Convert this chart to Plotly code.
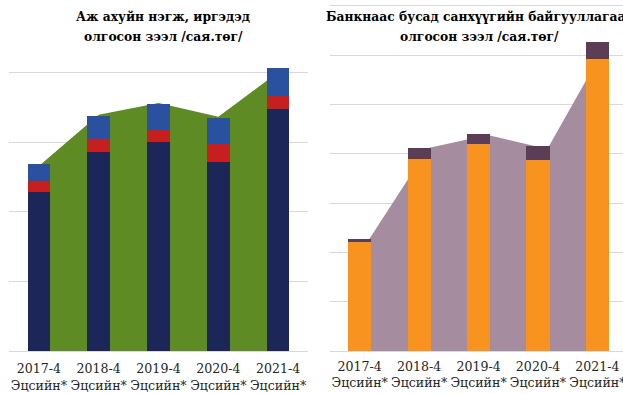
import plotly.graph_objects as go

categories = ["2017-4<br>Эцсийн*", "2018-4<br>Эцсийн*", "2019-4<br>Эцсийн*",
              "2020-4<br>Эцсийн*", "2021-4<br>Эцсийн*"]

# Left panel: loans to businesses and individuals
left_navy = [229, 286, 301, 272, 348]
left_red = [16, 19, 17, 26, 19]
left_blue = [24, 33, 37, 37, 40]
left_area = [266, 340, 357, 337, 401]

# Right panel: loans by non-bank financial institutions
right_orange = [223, 389, 420, 387, 592]
right_dark = [4, 22, 20, 28, 34]
right_area = [225, 412, 438, 410, 624]

title_left = ["Аж ахуйн нэгж, иргэдэд", "олгосон зээл /сая.төг/"]
title_right = ["Банкнаас бусад санхүүгийн байгууллагаас", "олгосон зээл /сая.төг/"]

W, H = 623, 394
serif = "DejaVu Serif"

fig = go.Figure()

# base layers: areas
fig.add_trace(go.Scatter(x=categories, y=left_area, mode="lines", line=dict(width=0),
                         fill="tozeroy", fillcolor="#5F8B25", xaxis="x", yaxis="y",
                         showlegend=False, hoverinfo="skip"))
fig.add_trace(go.Scatter(x=categories, y=right_area, mode="lines", line=dict(width=0),
                         fill="tozeroy", fillcolor="#A68C9F", xaxis="x2", yaxis="y2",
                         showlegend=False, hoverinfo="skip"))

# overlay layers: bars
for vals, col in [(left_navy, "#1C2659"), (left_red, "#C61F1F"), (left_blue, "#2A50A0")]:
    fig.add_trace(go.Bar(x=categories, y=vals, marker=dict(color=col, line=dict(width=0)),
                         width=0.38, xaxis="x3", yaxis="y3", showlegend=False))
for vals, col in [(right_orange, "#F7931E"), (right_dark, "#5B3E55")]:
    fig.add_trace(go.Bar(x=categories, y=vals, marker=dict(color=col, line=dict(width=0)),
                         width=0.39, xaxis="x4", yaxis="y4", showlegend=False))

tickfont = dict(family=serif, size=12.6, color="#262626")
grid = "#d9d9d9"

fig.update_layout(
    width=W, height=H,
    margin=dict(l=0, r=0, t=3, b=43),
    paper_bgcolor="white", plot_bgcolor="white",
    barmode="stack",
    xaxis=dict(domain=[9 / W, 308 / W], type="category", range=[-0.5, 4.5],
               showgrid=False, showline=True, linecolor=grid, linewidth=1,
               ticks="", tickfont=tickfont, tickangle=0, ticklabelstandoff=6,
               automargin=False),
    yaxis=dict(range=[0, 500.7], dtick=100, showgrid=True, gridcolor=grid, gridwidth=1,
               showticklabels=False, zeroline=False, ticks="", automargin=False),
    xaxis2=dict(domain=[330 / W, 1.0], type="category", range=[-0.65, 4.27],
                showgrid=False, showline=True, linecolor=grid, linewidth=1,
                ticks="", showticklabels=False, anchor="y2", automargin=False),
    yaxis2=dict(range=[0, 706], dtick=100, showgrid=True, gridcolor=grid, gridwidth=1,
                showticklabels=False, zeroline=False, ticks="", anchor="x2",
                automargin=False),
    xaxis3=dict(overlaying="x", type="category", range=[-0.5, 4.5], showgrid=False,
                showticklabels=False, showline=False, ticks="", anchor="y3",
                automargin=False),
    yaxis3=dict(overlaying="y", range=[0, 500.7], showgrid=False, showticklabels=False,
                zeroline=False, ticks="", anchor="x3", automargin=False),
    xaxis4=dict(overlaying="x2", type="category", range=[-0.5, 4.43], showgrid=False,
                showticklabels=True, tickfont=tickfont, tickangle=0, ticklabelstandoff=6,
                showline=False, ticks="", anchor="y4", automargin=False),
    yaxis4=dict(overlaying="y2", range=[0, 706], showgrid=False, showticklabels=False,
                zeroline=False, ticks="", anchor="x4", automargin=False),
)

anns = []
for cx, lines in [(163, title_left), (479, title_right)]:
    for i, line in enumerate(lines):
        anns.append(dict(text="<b>" + line + "</b>", xref="paper", yref="paper",
                         x=cx / W, y=1 - (22 + 20 * i - 3) / 348, xanchor="center",
                         yanchor="bottom", yshift=-4, showarrow=False,
                         font=dict(family=serif, size=12.3, color="black")))
fig.update_layout(annotations=anns)

fig.write_html("out.html", config={"displayModeBar": False},
               post_script="document.body.style.margin='0';document.body.style.overflow='hidden';")
